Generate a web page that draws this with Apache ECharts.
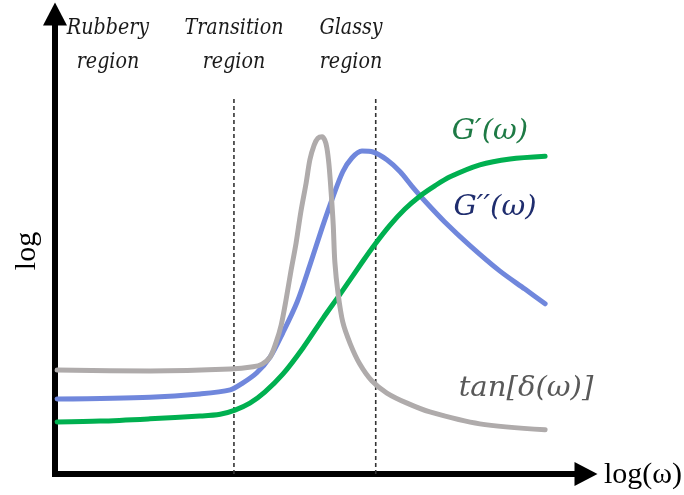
<!DOCTYPE html>
<html>
<head>
<meta charset="utf-8">
<script src="https://cdn.jsdelivr.net/npm/echarts@6/dist/echarts.min.js"></script>
<style>
  html, body { margin: 0; padding: 0; background: #fff; }
  #chart { width: 684px; height: 495px; }
</style>
</head>
<body>
<div id="chart"></div>
<script>
// Viscoelastic response versus log frequency (arbitrary units on both axes)

// Storage modulus G'(ω)
const gPrimeX = [0.04, 0.85, 1.79, 2.73, 3.11, 3.39, 3.67, 3.95, 4.29, 4.67, 5.05, 5.37, 5.80, 6.03, 6.31, 6.59, 6.87, 7.16, 7.44, 8.00, 8.57, 9.23];
const gPrimeY = [1.13, 1.15, 1.20, 1.26, 1.30, 1.39, 1.54, 1.78, 2.17, 2.74, 3.39, 3.91, 4.63, 5.00, 5.41, 5.76, 6.04, 6.27, 6.46, 6.72, 6.85, 6.91];

// Loss modulus G''(ω)
const gDoubleX = [0.04, 1.79, 2.73, 3.30, 3.54, 3.80, 4.05, 4.29, 4.56, 4.80, 5.03, 5.24, 5.42, 5.59, 5.78, 5.99, 6.25, 6.50, 6.72, 6.97, 7.34, 7.82, 8.38, 8.85, 9.23];
const gDoubleY = [1.63, 1.67, 1.74, 1.83, 1.98, 2.20, 2.54, 3.07, 3.74, 4.54, 5.35, 6.04, 6.57, 6.87, 7.02, 7.00, 6.83, 6.57, 6.26, 5.93, 5.48, 4.96, 4.41, 4.02, 3.70];

// Loss tangent tan[δ(ω)]
const tanDeltaX = [0.04, 1.79, 3.30, 3.73, 3.90, 4.05, 4.16, 4.26, 4.35, 4.44, 4.54, 4.63, 4.73, 4.80, 4.88, 4.95, 5.03, 5.08, 5.12, 5.16, 5.20, 5.24, 5.27, 5.33, 5.42, 5.56, 5.74, 5.97, 6.25, 6.63, 7.06, 8.00, 9.23];
const tanDeltaY = [2.26, 2.24, 2.28, 2.33, 2.39, 2.54, 2.85, 3.24, 3.78, 4.39, 5.02, 5.70, 6.33, 6.83, 7.15, 7.30, 7.33, 7.26, 7.09, 6.72, 6.13, 5.41, 4.61, 3.93, 3.30, 2.83, 2.39, 2.02, 1.76, 1.54, 1.35, 1.09, 0.96];

// Region boundaries and their height
const boundaryX = [3.37, 6.04];
const boundaryTop = 8.2;

// Region names and curve names
const regionNames = [['Rubbery', 'region'], ['Transition', 'region'], ['Glassy', 'region']];
const curveNames = ["G\u2032(\u03c9)", "G\u2032\u2032(\u03c9)", "tan[\u03b4(\u03c9)]"];
const xAxisName = 'log(\u03c9)';
const yAxisName = 'log';

const zip = (xs, ys) => xs.map((x, i) => [x, ys[i]]);

const chart = echarts.init(document.getElementById('chart'), null, { renderer: 'canvas' });

const axisCommon = {
  type: 'value',
  min: 0,
  max: 10,
  axisLabel: { show: false },
  axisTick: { show: false },
  splitLine: { show: false },
  axisLine: {
    show: true,
    symbol: ['none', 'triangle'],
    symbolSize: [24, 23],
    lineStyle: { color: '#000', width: 6, cap: 'square' }
  }
};

const curveStyle = (color) => ({
  type: 'line',
  smooth: 0.3,
  showSymbol: false,
  symbol: 'none',
  lineStyle: { color: color, width: 5, cap: 'round', join: 'round' },
  z: 3
});

const boundarySeries = boundaryX.map((bx) => ({
  type: 'line',
  data: [[bx, 0], [bx, boundaryTop]],
  showSymbol: false,
  symbol: 'none',
  lineStyle: { color: '#333', width: 1.6, type: [4, 3] },
  z: 2
}));

// Region captions: two lines each, italic and slightly condensed
const regionCenters = [108, 234, 351];
const regionText = [];
regionNames.forEach((lines, i) => {
  lines.forEach((line, j) => {
    regionText.push({
      type: 'text',
      x: regionCenters[i],
      y: 28 + j * 34,
      scaleX: 0.83,
      style: {
        text: line,
        font: 'italic 23px "DejaVu Serif"',
        fill: '#1a1a1a',
        align: 'center',
        verticalAlign: 'middle'
      }
    });
  });
});

const curveLabelPos = [[490, 132, '#1e7a45'], [495, 208, '#1f2d6e'], [526, 389, '#595959']];
const curveText = curveNames.map((t, i) => ({
  type: 'text',
  x: curveLabelPos[i][0],
  y: curveLabelPos[i][1],
  scaleX: 1.08,
  style: {
    text: t,
    font: 'italic 27px "DejaVu Serif"',
    fill: curveLabelPos[i][2],
    align: 'center',
    verticalAlign: 'middle'
  }
}));

chart.setOption({
  animation: false,
  backgroundColor: '#fff',
  grid: { left: 55, right: 98, top: 14, bottom: 21, containLabel: false },
  xAxis: Object.assign({}, axisCommon),
  yAxis: Object.assign({}, axisCommon),
  series: [
    ...boundarySeries,
    Object.assign(curveStyle('#7087dc'), { name: curveNames[1], data: zip(gDoubleX, gDoubleY) }),
    Object.assign(curveStyle('#00b050'), { name: curveNames[0], data: zip(gPrimeX, gPrimeY) }),
    Object.assign(curveStyle('#afabab'), { name: curveNames[2], data: zip(tanDeltaX, tanDeltaY) })
  ],
  graphic: [
    ...regionText,
    ...curveText,
    {
      type: 'text',
      x: 643, y: 475,
      style: { text: xAxisName, font: '30px "Liberation Serif"', fill: '#000', align: 'center', verticalAlign: 'middle' }
    },
    {
      type: 'text',
      x: 27, y: 251,
      rotation: Math.PI / 2,
      style: { text: yAxisName, font: '30px "Liberation Serif"', fill: '#000', align: 'center', verticalAlign: 'middle' }
    }
  ]
});
</script>
</body>
</html>
